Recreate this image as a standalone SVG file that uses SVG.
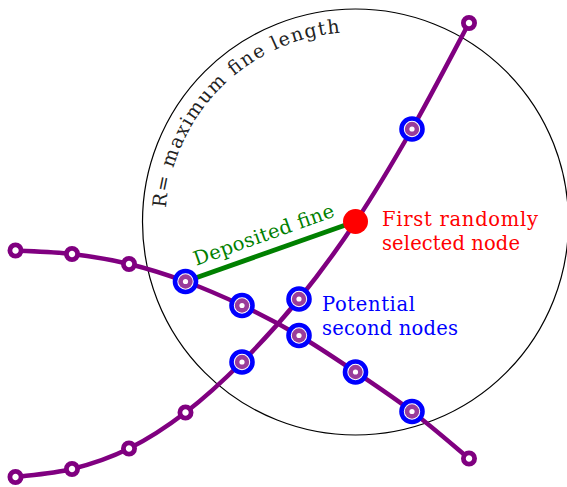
<svg xmlns="http://www.w3.org/2000/svg" width="567" height="487" viewBox="0 0 567 487">
<style>
.curve{fill:none;stroke:#800080;stroke-width:4.5;stroke-linecap:round;stroke-linejoin:round}
.pn{fill:#fff;stroke:#800080;stroke-width:4.8}
.ring{fill:#fff;stroke:#0000ff;stroke-width:4.6}
.hp{fill:#9a3d9a}
.hw{fill:#fff}
.t{font-family:"DejaVu Serif","Liberation Serif",serif;font-size:19.5px}
</style>
<defs>
<g id="plain"><circle class="pn" r="5.6"/></g>
<g id="hl"><circle class="ring" r="10.5"/><circle class="hp" r="7.2"/><circle class="hw" r="2.6"/></g>
<path id="arc" d="M165.5,222 A190,190 0 0 1 355.5,32"/>
</defs>
<rect width="567" height="487" fill="#fff"/>
<circle id="range" cx="355.5" cy="222" r="213" fill="none" stroke="#000" stroke-width="1.2"/>
<g id="connectors">
<path id="lineA" class="curve" d="M15.5,477 C24.920,475.67 53.08,473.75 72,469 C90.92,464.25 110.08,457.92 129,448.5 C147.92,439.08 166.67,426.92 185.5,412.5 C204.33,398.08 223.08,380.92 242,362 C260.92,343.08 280.08,322.33 299,299 C317.92,275.67 336.67,250.33 355.5,222 C374.33,193.67 393.08,162.17 412,129 C430.92,95.83 459.5,40.67 469,23"/>
<path id="lineB" class="curve" d="M15.5,250.5 C24.92,251.08 53.08,251.75 72,254 C90.92,256.25 110.08,259.42 129,264 C147.92,268.58 166.67,274.58 185.5,281.5 C204.33,288.42 223.08,296.5 242,305.5 C260.92,314.5 280.08,324.42 299,335.5 C317.92,346.58 336.67,359.33 355.5,372 C374.33,384.67 393.08,397.08 412,411.5 C430.92,425.92 459.5,450.67 469,458.5"/>
<line id="fine" x1="185.5" y1="281.5" x2="355.5" y2="221.5" stroke="#008000" stroke-width="4.8"/>
</g>
<g id="a0"><use href="#plain" x="15.5" y="477"/></g>
<g id="a1"><use href="#plain" x="72" y="469"/></g>
<g id="a2"><use href="#plain" x="129" y="448.5"/></g>
<g id="a3"><use href="#plain" x="185.5" y="412.5"/></g>
<g id="a4"><use href="#hl" x="242" y="362"/></g>
<g id="a5"><use href="#hl" x="299" y="299"/></g>
<g id="a7"><use href="#hl" x="412" y="129"/></g>
<g id="a8"><use href="#plain" x="469" y="23"/></g>
<g id="b0"><use href="#plain" x="15.5" y="250.5"/></g>
<g id="b1"><use href="#plain" x="72" y="254"/></g>
<g id="b2"><use href="#plain" x="129" y="264"/></g>
<g id="b3"><use href="#hl" x="185.5" y="281.5"/></g>
<g id="b4"><use href="#hl" x="242" y="305.5"/></g>
<g id="b5"><use href="#hl" x="299" y="335.5"/></g>
<g id="b6"><use href="#hl" x="355.5" y="372"/></g>
<g id="b7"><use href="#hl" x="412" y="411.5"/></g>
<g id="b8"><use href="#plain" x="469" y="458.5"/></g>
<g id="first"><circle cx="355.5" cy="221.5" r="12.5" fill="#ff0000"/></g>
<g id="labels">
<text class="t" fill="#ff0000"><tspan x="382" y="225.7" textLength="156">First randomly</tspan><tspan x="382" y="250" textLength="138">selected node</tspan></text>
<text class="t" fill="#0000ff"><tspan x="322" y="310.7" textLength="93">Potential</tspan><tspan x="322" y="335" textLength="136">second nodes</tspan></text>
<text class="t" fill="#008000" transform="translate(266,241) rotate(-19.55)" text-anchor="middle" textLength="148">Deposited fine</text>
<text class="t" fill="#222" style="font-size:19px"><textPath href="#arc" startOffset="14" textLength="269">R= maximum fine length</textPath></text>
</g>
</svg>
